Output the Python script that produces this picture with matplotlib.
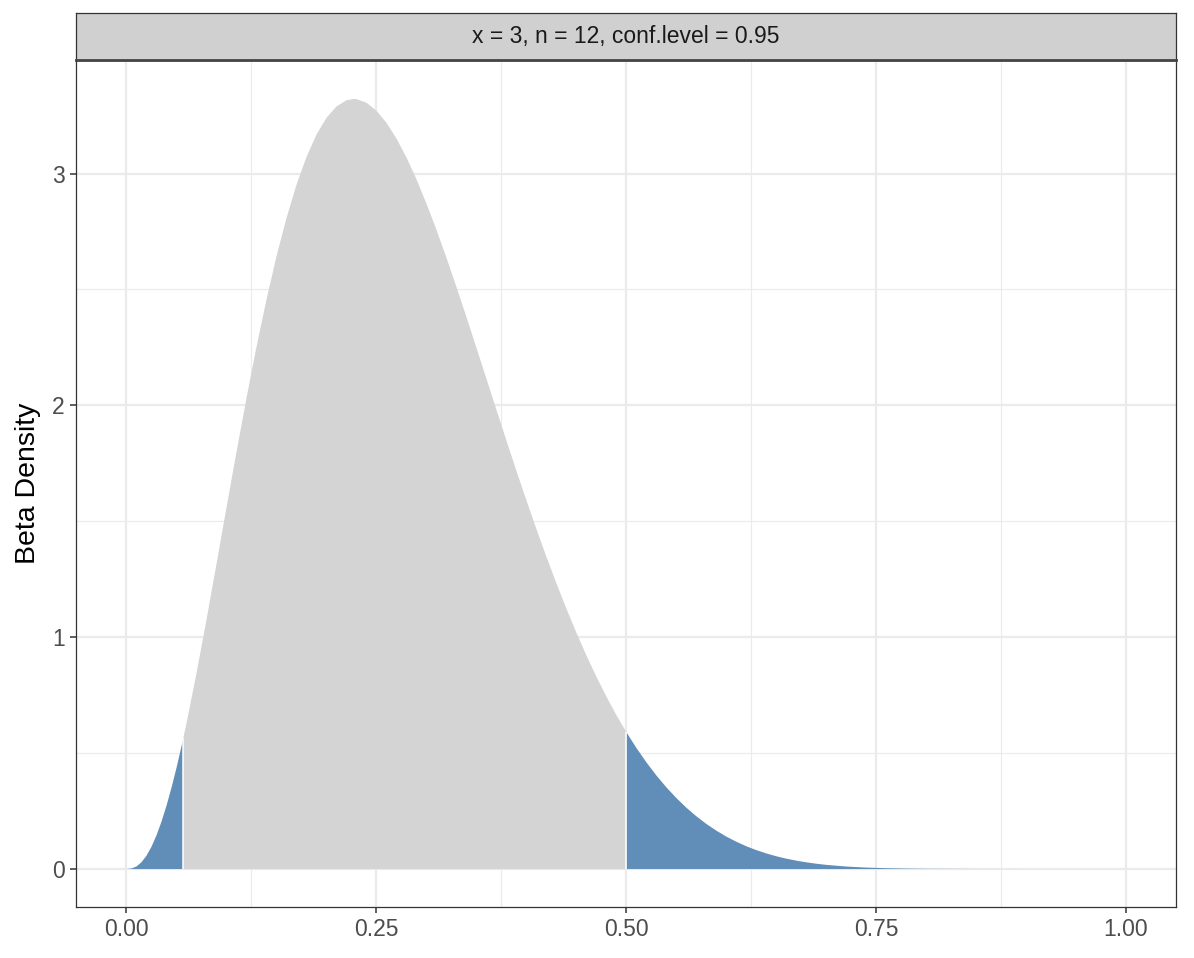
import numpy as np
import matplotlib
matplotlib.use("Agg")
import matplotlib.pyplot as plt

plt.rcParams['font.family'] = ['Liberation Sans', 'DejaVu Sans']

# density values
x = [0.0, 0.005, 0.01, 0.015, 0.02, 0.025, 0.03, 0.035, 0.04, 0.045, 0.05,
     0.055, 0.0568, 0.06, 0.07, 0.08, 0.09, 0.10, 0.11, 0.12, 0.13, 0.14,
     0.15, 0.16, 0.17, 0.18, 0.19, 0.20, 0.21, 0.22, 0.227, 0.23, 0.24,
     0.25, 0.26, 0.27, 0.28, 0.29, 0.30, 0.31, 0.32, 0.33, 0.34, 0.35,
     0.36, 0.37, 0.38, 0.39, 0.40, 0.41, 0.42, 0.43, 0.44, 0.45, 0.46,
     0.47, 0.48, 0.49, 0.50, 0.51, 0.52, 0.53, 0.54, 0.55, 0.56, 0.57,
     0.58, 0.59, 0.60, 0.61, 0.62, 0.63, 0.64, 0.65, 0.66, 0.67, 0.68,
     0.69, 0.70, 0.72, 0.74, 0.76, 0.78, 0.80, 0.85, 0.90, 0.95, 1.0]
dens = [0.0, 0.0021, 0.0111, 0.0293, 0.0576, 0.0963, 0.1454, 0.2046, 0.2733,
        0.3509, 0.4368, 0.5299, 0.5651, 0.6297, 0.8453, 1.0766, 1.3170,
        1.5603, 1.8008, 2.0333, 2.2539, 2.4587, 2.6451, 2.8108, 2.9541,
        3.0743, 3.1707, 3.2433, 3.2925, 3.3190, 3.3244, 3.3238, 3.3082,
        3.2736, 3.2215, 3.1536, 3.0716, 2.9774, 2.8727, 2.7591, 2.6385,
        2.5123, 2.3822, 2.2495, 2.1156, 1.9817, 1.8489, 1.7184, 1.5906,
        1.4667, 1.3471, 1.2324, 1.1230, 1.0192, 0.9213, 0.8293, 0.7435,
        0.6636, 0.5899, 0.5221, 0.4599, 0.4033, 0.3520, 0.3058, 0.2642,
        0.2272, 0.1942, 0.1652, 0.1396, 0.1174, 0.0980, 0.0813, 0.0670,
        0.0548, 0.0445, 0.0359, 0.0287, 0.0227, 0.0178, 0.0106, 0.0061,
        0.0033, 0.0017, 0.0008, 0.0001, 0.0, 0.0, 0.0]
lower = 0.0568
upper = 0.50
strip_label = "x = 3, n = 12, conf.level = 0.95"
ylabel = "Beta Density"
xticks = [0.0, 0.25, 0.50, 0.75, 1.0]
xticklabels = ["0.00", "0.25", "0.50", "0.75", "1.00"]
yticks = [0, 1, 2, 3]

x = np.array(x)
dens = np.array(dens)

W, H = 1194, 958
fig = plt.figure(figsize=(W / 100, H / 100), dpi=100)
ax = fig.add_axes([76 / W, 1 - 907 / H, 1100 / W, 847 / H])

blue = '#618DB9'
grey = '#D4D4D4'

left = x <= lower
mid = (x >= lower) & (x <= upper)
right = x >= upper
ax.fill_between(x[left], 0, dens[left], color=blue, lw=0, zorder=2)
ax.fill_between(x[mid], 0, dens[mid], color=grey, lw=0, zorder=2)
ax.fill_between(x[right], 0, dens[right], color=blue, lw=0, zorder=2)
ax.vlines([lower, upper], 0, [dens[x == lower][0], dens[x == upper][0]],
          color='white', lw=1.1, zorder=3)

ax.set_xlim(-0.05, 1.05)
ax.set_ylim(-0.1662, 3.4906)
ax.set_xticks(xticks)
ax.set_xticklabels(xticklabels)
ax.set_yticks(yticks)
ax.set_xticks([0.125, 0.375, 0.625, 0.875], minor=True)
ax.set_yticks([0.5, 1.5, 2.5], minor=True)
ax.grid(which='major', color='#EBEBEB', lw=1.6, zorder=0)
ax.grid(which='minor', color='#EBEBEB', lw=0.8, zorder=0)
ax.set_axisbelow(True)
ax.tick_params(which='major', length=4, width=1.1, color='#333333',
               labelcolor='#4D4D4D', labelsize=16.5, pad=4)
ax.tick_params(which='minor', length=0)
for s in ax.spines.values():
    s.set_color('#333333')
    s.set_linewidth(0.9)
ax.set_ylabel(ylabel, fontsize=20.5, color='black', labelpad=8)

# facet strip
sax = fig.add_axes([76 / W, 1 - 60 / H, 1100 / W, 47 / H])
sax.set_facecolor('#D0D0D0')
sax.set_xticks([])
sax.set_yticks([])
for s in sax.spines.values():
    s.set_color('#333333')
    s.set_linewidth(0.9)
sax.spines['bottom'].set_linewidth(2.0)
sax.spines['bottom'].set_color('#444444')
sax.text(0.5, 0.5, strip_label, ha='center', va='center', fontsize=16.5,
         color='#1A1A1A', transform=sax.transAxes)

fig.savefig("out.png", dpi=100)
